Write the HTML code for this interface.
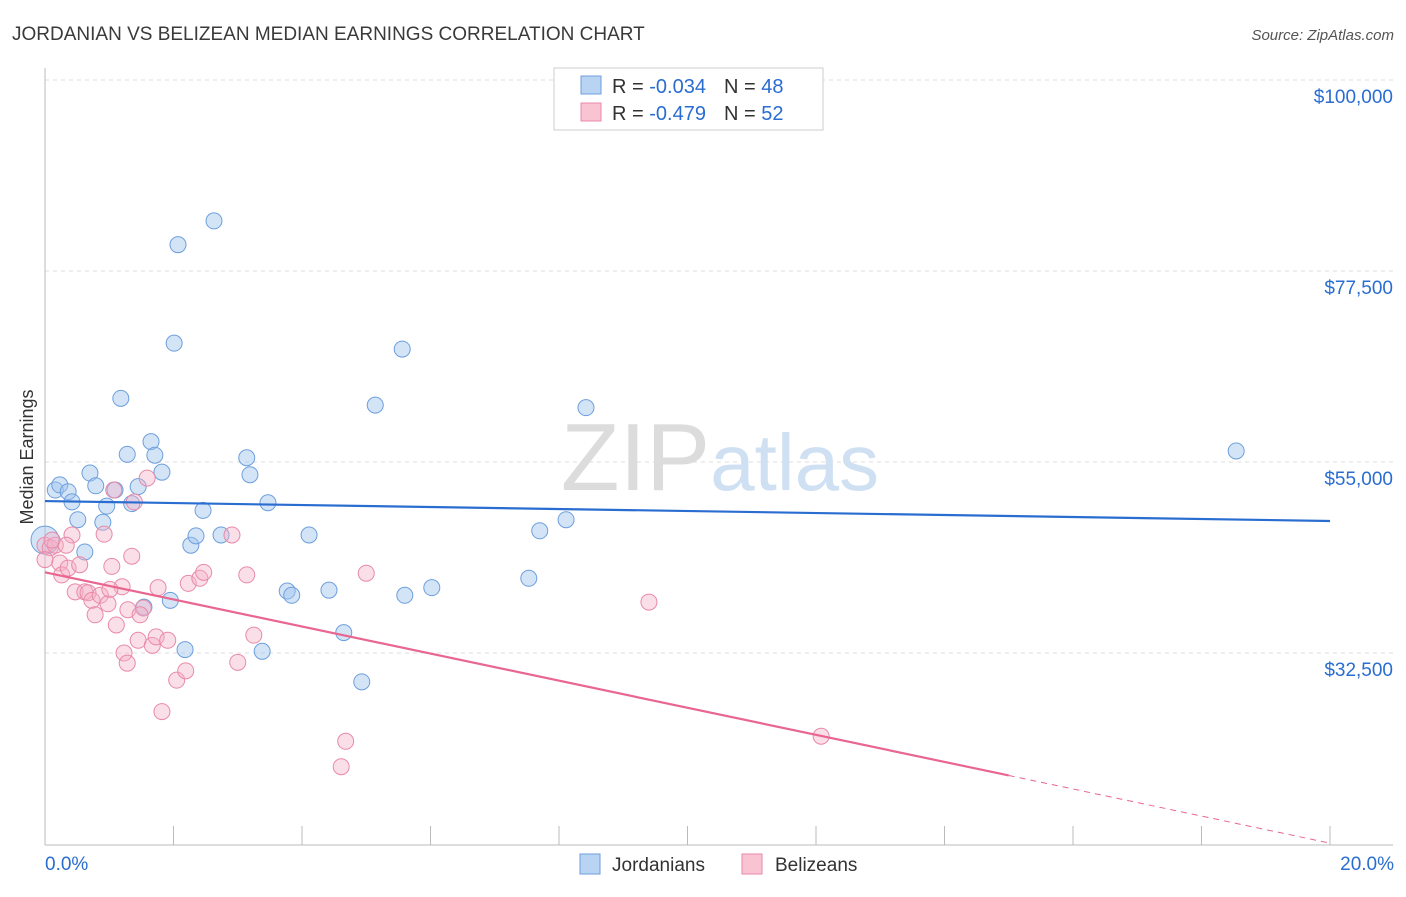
<!DOCTYPE html>
<html><head><meta charset="utf-8"><style>
body{margin:0;background:#fff;font-family:"Liberation Sans",sans-serif;}
svg text{font-family:"Liberation Sans",sans-serif;}
</style></head><body>
<svg width="1406" height="892" viewBox="0 0 1406 892">
<text x="12" y="40" font-size="19" fill="#3a3a3a">JORDANIAN VS BELIZEAN MEDIAN EARNINGS CORRELATION CHART</text>
<text x="1394" y="40" font-size="15" fill="#555" font-style="italic" text-anchor="end">Source: ZipAtlas.com</text>
<text x="33" y="457" font-size="18" fill="#333" text-anchor="middle" transform="rotate(-90 33 457)">Median Earnings</text>
<g id="grid"></g>
<g id="axes"></g>
<text x="720" y="490" font-size="96" fill="#d8d8d8" text-anchor="middle" font-family="Liberation Serif"><tspan fill="#dcdcdc">ZIP</tspan><tspan fill="#cfe0f3" font-family="Liberation Sans" font-size="80">atlas</tspan></text>
<g id="pts"></g>
<g id="lines"></g>
<g>
<rect x="554" y="68" width="269" height="62" fill="#fff" stroke="#ccc"/>
<rect x="581" y="76" width="20" height="18" fill="#b9d3f3" stroke="#6d9fdc"/>
<rect x="581" y="103" width="20" height="18" fill="#f8c4d3" stroke="#e88aa8"/>
<text x="612" y="93" font-size="20" fill="#333">R = <tspan fill="#2a6dd0">-0.034</tspan><tspan dx="18">N = </tspan><tspan fill="#2a6dd0">48</tspan></text>
<text x="612" y="120" font-size="20" fill="#333">R = <tspan fill="#2a6dd0">-0.479</tspan><tspan dx="18">N = </tspan><tspan fill="#2a6dd0">52</tspan></text>
</g>
<g>
<rect x="580" y="854" width="20" height="20" fill="#b9d3f3" stroke="#6d9fdc"/>
<text x="612" y="871" font-size="19" fill="#333">Jordanians</text>
<rect x="742" y="854" width="20" height="20" fill="#f8c4d3" stroke="#e88aa8"/>
<text x="775" y="871" font-size="19" fill="#333">Belizeans</text>
</g>
<text x="45" y="870" font-size="19" fill="#2a6dd0">0.0%</text>
<text x="1394" y="870" font-size="19" fill="#2a6dd0" text-anchor="end">20.0%</text>
</svg>
<script>
const yTicks=[100000,77500,55000,32500];
const yTickLabels=["$100,000","$77,500","$55,000","$32,500"];
const xTicks=[0,2,4,6,8,10,12,14,16,18,20];
const blueX=[0,.16,.23,.36,.42,.51,.62,.70,.79,.90,.96,1.09,1.18,1.28,1.35,1.45,1.54,1.65,1.71,1.82,1.95,2.01,2.07,2.18,2.27,2.35,2.46,2.63,2.74,3.14,3.19,3.38,3.47,3.77,3.84,4.11,4.42,4.65,4.93,5.14,5.56,5.60,6.02,7.53,7.70,8.11,8.42,18.54];
const blueY=[45.8,51.7,52.3,51.5,50.3,48.2,44.4,53.7,52.2,47.9,49.8,51.7,62.5,55.9,50.1,52.1,37.9,57.4,55.8,53.8,38.7,69.0,80.6,32.9,45.2,46.3,49.3,83.4,46.4,55.5,53.5,32.7,50.2,39.8,39.3,46.4,39.9,34.9,29.1,61.7,68.3,39.3,40.2,41.3,46.9,48.2,61.4,56.3];
const pinkX=[0,.08,.16,.23,.26,.36,.42,.47,.54,.62,.67,.73,.78,.86,.92,.98,1.04,1.07,1.11,1.20,1.23,1.28,1.29,1.35,1.39,1.45,1.53,1.59,1.67,1.73,1.76,1.82,1.91,2.05,2.19,2.23,2.41,2.47,2.91,3.00,3.14,3.25,4.61,4.68,5.00,9.40,12.08,0,.11,.33,1.48,1.01];
const pinkY=[45.2,44.9,45.2,43.1,41.7,42.5,46.4,39.7,42.9,39.7,39.6,38.7,37.0,39.3,46.5,38.3,42.7,51.7,35.8,40.3,32.5,31.3,37.6,43.9,50.3,34.0,37.8,53.1,33.4,34.4,40.2,25.6,34.0,29.3,30.4,40.7,41.3,42.0,46.4,31.4,41.7,34.6,19.1,22.1,41.9,38.5,22.7,43.5,45.8,45.2,37.0,40.0];
const blueTrend=[50.4,48.05];
const pinkTrend=[42.0,10.1];
const pinkSolidEnd=15.0;
const NS="http://www.w3.org/2000/svg";
const X=v=>45+v/20*1285;
const Y=v=>80+(100000-v)/22500*191;
const Yk=v=>Y(v*1000);
function mk(p,t,a){const e=document.createElementNS(NS,t);for(const k in a)e.setAttribute(k,a[k]);p.appendChild(e);return e;}
const grid=document.getElementById('grid');
yTicks.forEach((v,i)=>{
 const l=mk(grid,'line',{x1:45,x2:1393,y1:Y(v),y2:Y(v),stroke:'#ddd','stroke-dasharray':'4,4'});
 
 
 const t=mk(grid,'text',{x:1393,y:Y(v)+23,'font-size':19,fill:'#2a6dd0','text-anchor':'end'});
 t.textContent=yTickLabels[i];
 
 
});
const axes=document.getElementById('axes');
mk(axes,'line',{x1:45,x2:45,y1:68,y2:845,stroke:'#bbb'});
mk(axes,'line',{x1:45,x2:1393,y1:845,y2:845,stroke:'#bbb'});
xTicks.forEach(v=>{
 const t=mk(axes,'line',{x1:X(v),x2:X(v),y1:826,y2:845,stroke:'#bbb'});
 
 
});
const pts=document.getElementById('pts');
blueX.forEach((x,i)=>{
 const c=mk(pts,'circle',{cx:X(x),cy:Yk(blueY[i]),r:i===0?14:8,fill:'rgba(160,195,238,0.45)',stroke:'#6d9fdc','stroke-width':1});
 
 
});
pinkX.forEach((x,i)=>{
 const c=mk(pts,'circle',{cx:X(x),cy:Yk(pinkY[i]),r:8,fill:'rgba(245,175,198,0.4)',stroke:'#e88aa8','stroke-width':1});
 
 
});
const lines=document.getElementById('lines');
const bl=mk(lines,'line',{x1:X(0),y1:Yk(blueTrend[0]),x2:X(20),y2:Yk(blueTrend[1]),stroke:'#2a6dd0','stroke-width':2.2});


const pv=x=>pinkTrend[0]+(pinkTrend[1]-pinkTrend[0])*x/20;
const pl=mk(lines,'line',{x1:X(0),y1:Yk(pv(0)),x2:X(pinkSolidEnd),y2:Yk(pv(pinkSolidEnd)),stroke:'#e8668f','stroke-width':2.2});


const pd=mk(lines,'line',{x1:X(pinkSolidEnd),y1:Yk(pv(pinkSolidEnd)),x2:X(20),y2:Yk(pv(20)),stroke:'#e8668f','stroke-width':1,'stroke-dasharray':'6,5'});


</script>
</body></html>
